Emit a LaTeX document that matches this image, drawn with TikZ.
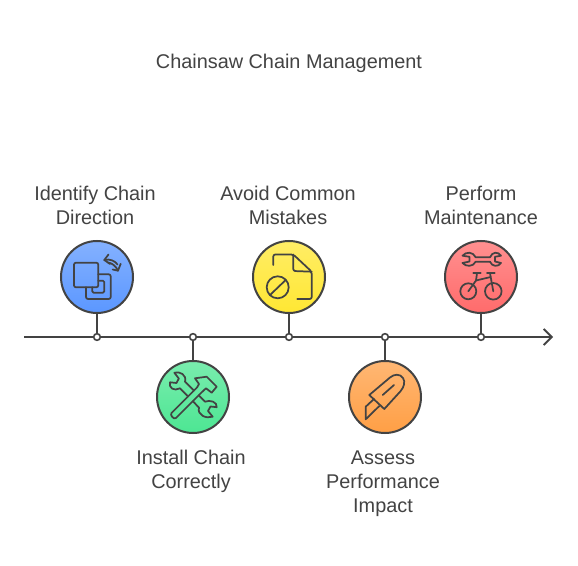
\documentclass[tikz,border=0pt]{standalone}
\usepackage{fontspec}
\setmainfont{Liberation Sans}
\usetikzlibrary{arrows.meta}
\definecolor{ink}{HTML}{434343}
\tikzset{
 x=0.75pt,y=-0.75pt,
 disc/.style={circle,draw=ink,line width=1.5pt,minimum size=54pt,inner sep=0pt},
 tick/.style={circle,draw=ink,fill=white,line width=1.2pt,minimum size=5pt,inner sep=0pt},
 conn/.style={draw=ink,line width=1.4pt},
 icon/.style={draw=ink,line width=1.3pt,line cap=round,line join=round},
 lab/.style={text=ink,font=\fontsize{14.9}{18}\selectfont,align=center},
}
\begin{document}
\begin{tikzpicture}
\useasboundingbox (0,0) rectangle (578,566);
\fill[white] (0,0) rectangle (578,566);
\node[lab] (title) at (289,63) {Chainsaw Chain Management};
\coordinate (s) at (24,337);
\coordinate (e) at (553,337);
\draw[conn,-{Straight Barb[length=6pt,width=12pt,line width=1.4pt]}] (s) -- (e);
\foreach \n/\x/\y/\c in {a/97/277/5B97FF,b/193/397/4DE693,c/289/277/FFE733,d/385/397/FF9F45,f/481/277/FF6B6B}{
 \definecolor{cc}{HTML}{\c}
 \node[disc,top color=cc!75!white,bottom color=cc] (\n) at (\x,\y) {};
 \node[tick] (t\n) at (\x,337) {};
 \draw[conn] (\n) -- (t\n);
}
\node[lab] (la) at (95,205) {Identify Chain\\Direction};
\node[lab] (lb) at (191,471) {Install Chain\\Correctly};
\node[lab] (lc) at (288,205) {Avoid Common\\Mistakes};
\node[lab] (ld) at (383,484) {Assess\\Performance\\Impact};
\node[lab] (lf) at (481,205) {Perform\\Maintenance};
% icon 1: squares and arrows
\draw[icon,rounded corners=1.5pt] (74,262.7) rectangle (98.3,287.3);
\draw[icon,rounded corners=1.5pt] (98.3,274.3) -- (110.7,274.3) -- (110.7,299) -- (86,299) -- (86,287.3);
\draw[icon,rounded corners=1pt] (98.3,280.7) -- (104.3,280.7) -- (104.3,292.7) -- (92.3,292.7) -- (92.3,287.3);
\draw[icon] (108.5,254.5) -- (104.3,260) -- (110,264);
\draw[icon] (104.3,260) .. controls (110,258.5) and (115,261) .. (117.5,264.5);
\draw[icon] (108,262.5) .. controls (112,263) and (116,266) .. (118,270.7);
\draw[icon] (112.7,269.5) -- (118,270.7) -- (120.7,263.8);
% icon 2: hammer and wrench
\draw[icon] (171.5,413) -- (197,387.5) -- (199,384) -- (195,378.3) -- (206.7,376.7) -- (216.7,386.7) -- (211.7,392.7) -- (206,388.3) -- (202,392) -- (176,418) .. controls (174,420) and (169.5,415) .. (171.5,413) -- cycle;
\draw[icon] (193.9,390.6) -- (185,381.7) .. controls (187,375) and (180,371) .. (174.3,372.7) -- (178.8,378.5) -- (176.5,383) -- (170,382.3) .. controls (168.5,388) and (174,391.5) .. (180,388.3) -- (188.1,396.4);
\draw[icon] (198.65,395.35) -- (205,401.7) .. controls (210,399.5) and (217.5,402) .. (216.7,407.2) -- (210.5,406.5) -- (208,411) -- (212.7,416.7) .. controls (206,419) and (197,415) .. (199,407.7) -- (192.85,401.15);
% icon 3: document and no-sign
\draw[icon,rounded corners=1.5pt] (273.3,265) -- (273.3,254.5) -- (293.3,254.5) -- (311.7,271.7) -- (311.7,299) -- (297.3,299);
\draw[icon,rounded corners=1.5pt] (293.3,254.5) -- (293.3,271) -- (311.7,271.7);
\draw[icon] (277.7,287.3) circle (11);
\draw[icon] (270,295) -- (285.7,280);
% icon 4: utility knife
\draw[icon] (369.3,395) -- (390,377.5) .. controls (394,374) and (400,373.5) .. (403,378) .. controls (405.5,382) and (404,387) .. (400.7,391) -- (384.3,409) -- cycle;
\draw[icon] (382.7,395) -- (394,385);
\draw[icon] (374,399) -- (365.7,406.7) -- (365.7,419.3) -- (379.3,406);
% icon 5: wrench and bicycle
\draw[icon] (462.5,255.7) .. controls (466,251.5) and (473,251.5) .. (475.7,257.3) -- (490,257.3) .. controls (492,251.5) and (498.5,251.5) .. (501,255.7) -- (495,256.8) -- (495,261.5) -- (501,263) .. controls (498.5,267) and (492,267) .. (490,261.7) -- (475.7,261.7) .. controls (473,267) and (466,267) .. (462.5,263) -- (469.5,261.5) -- (469.5,256.8) -- cycle;
\draw[icon] (468.3,291.3) circle (8);
\draw[icon] (493.3,291.3) circle (8.3);
\draw[icon] (473.3,273.3) -- (480.7,273.3);
\draw[icon] (487,273.3) -- (494.7,273.3);
\draw[icon] (477,273.3) -- (476,280.5) -- (468.3,291.3);
\draw[icon] (476,280.5) -- (490.7,277);
\draw[icon] (490,273.3) -- (493.3,291.3);
\end{tikzpicture}
\end{document}
